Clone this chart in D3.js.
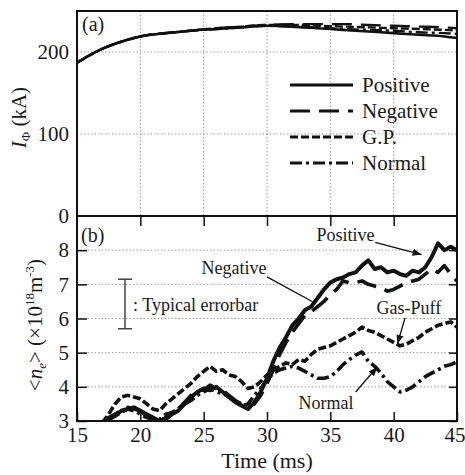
<!DOCTYPE html>
<html>
<head>
<meta charset="utf-8">
<title>Plasma current and density</title>
<style>
body { margin: 0; background: #fff; }
.grid line { stroke: #9a9a9a; stroke-width: 1; stroke-dasharray: 1.5,2; }
.axis path { display: none; }
.axis line { stroke: #111; stroke-width: 1.5; }
</style>
</head>
<body>
<div id="chart"></div>

<script src="https://cdnjs.cloudflare.com/ajax/libs/d3/7.8.5/d3.min.js"></script>
<script>
// ---- panel (a): plasma current I_phi (kA)
const TIME_A = [15, 16, 17, 18, 19, 20, 22, 24, 26, 28, 30, 32, 34, 36, 38, 40, 42, 44, 45];
const IP_POSITIVE = [187, 196, 204, 210, 215, 219, 223, 226, 228, 230, 232, 231, 229, 227, 225, 223, 221, 219, 217];
const IP_NEGATIVE = [187, 196, 204, 210, 215, 219, 223, 226, 229, 231, 233, 234, 234, 234, 233, 232, 231, 230, 229];
const IP_GP       = [187, 196, 204, 210, 215, 219, 223, 226, 229, 231, 233, 233, 232, 231, 230, 229, 228, 227, 226];
const IP_NORMAL   = [187, 196, 204, 210, 215, 219, 223, 226, 228, 230, 232, 231, 230, 228, 227, 226, 224, 223, 222];

// ---- panel (b): line averaged density (x10^18 m^-3)
const TIME_B = [17, 17.5, 18, 18.5, 19, 19.5, 20, 20.5, 21, 21.5, 22, 22.5, 23, 23.5, 24, 24.5,
	25, 25.5, 26, 26.5, 27, 27.5, 28, 28.5, 29, 29.5, 30, 30.5, 31, 31.5, 32, 32.5, 33, 33.5,
	34, 34.5, 35, 35.5, 36, 36.5, 37, 37.5, 38, 38.5, 39, 39.5, 40, 40.5, 41, 41.5, 42, 42.5,
	43, 43.5, 44, 44.5, 45];
const NE_POSITIVE = [2.95, 3.05, 3.15, 3.3, 3.35, 3.4, 3.3, 3.2, 3.1, 3.0, 3.05, 3.2, 3.3, 3.5, 3.7, 3.85,
	3.95, 3.9, 4.0, 3.85, 3.7, 3.55, 3.45, 3.35, 3.55, 3.85, 4.25, 4.75, 5.15, 5.45, 5.8, 6.0, 6.25, 6.35,
	6.6, 6.85, 7.05, 7.15, 7.2, 7.3, 7.35, 7.55, 7.7, 7.45, 7.5, 7.35, 7.4, 7.3, 7.25, 7.4, 7.35, 7.5,
	7.8, 8.2, 8.0, 8.1, 8.0];
const NE_NEGATIVE = [2.95, 3.1, 3.2, 3.3, 3.4, 3.35, 3.3, 3.15, 3.05, 3.0, 3.1, 3.25, 3.35, 3.55, 3.75, 3.9,
	3.9, 4.05, 3.95, 3.9, 3.75, 3.6, 3.5, 3.45, 3.5, 3.75, 4.1, 4.5, 4.95, 5.3, 5.6, 5.85, 6.1, 6.2,
	6.35, 6.5, 6.7, 6.85, 7.1, 7.05, 7.05, 7.1, 7.0, 6.95, 6.9, 6.8, 6.85, 6.95, 7.05, 7.1, 7.15, 7.3,
	7.45, 7.35, 7.55, 7.3, 7.1];
const NE_GP = [2.95, 3.2, 3.5, 3.7, 3.75, 3.7, 3.65, 3.5, 3.35, 3.3, 3.5, 3.65, 3.8, 3.95, 4.1, 4.3,
	4.45, 4.6, 4.45, 4.5, 4.35, 4.3, 4.15, 3.95, 4.0, 4.15, 4.35, 4.5, 4.6, 4.7, 4.65, 4.8, 4.75, 4.95,
	5.1, 5.15, 5.2, 5.3, 5.4, 5.5, 5.6, 5.75, 5.65, 5.6, 5.5, 5.4, 5.3, 5.2, 5.25, 5.35, 5.45, 5.6,
	5.7, 5.8, 5.85, 5.9, 5.75];
const NE_NORMAL = [2.95, 3.05, 3.15, 3.25, 3.35, 3.3, 3.2, 3.1, 3.05, 3.05, 3.2, 3.25, 3.35, 3.5, 3.6, 3.75,
	3.85, 3.95, 3.85, 3.8, 3.7, 3.6, 3.45, 3.5, 3.75, 3.95, 4.2, 4.4, 4.5, 4.55, 4.6, 4.55, 4.45, 4.35,
	4.25, 4.25, 4.3, 4.45, 4.65, 4.8, 4.93, 5.02, 4.75, 4.6, 4.4, 4.15, 4.0, 3.85, 3.9, 4.0, 4.15, 4.3,
	4.4, 4.5, 4.6, 4.65, 4.73];

const SERIES_NAMES = ["Positive", "Negative", "G.P.", "Normal"];
const DASHES = [null, "20,9", "8,3", "12,4,3,4"];

const X_TICKS = [15, 20, 25, 30, 35, 40, 45];
const YA_TICKS = [0, 100, 200];
const YB_TICKS = [3, 4, 5, 6, 7, 8];

// annotations in panel (b): [label, labelT, labelV, fromT, fromV, toT, toV, arrow]
const NOTES = [
	["Positive", 36.2, 8.26, 38.55, 8.23, 42.2, 7.87, true],
	["Negative", 27.4, 7.29, 30.0, 7.22, 33.6, 6.49, false],
	["Gas-Puff", 41.2, 6.14, 40.9, 6.02, 40.3, 5.26, true],
	["Normal",   34.65, 3.35, 37.0, 3.85, 38.7, 4.58, true]
];

const W = 465, H = 475;
let svg, x, yA, yB;

initChart();

function initChart() {

	svg = d3.select("#chart").append("svg")
		.attr("width", W)
		.attr("height", H);

	x  = d3.scaleLinear().domain([15, 45]).range([77, 457]);
	yA = d3.scaleLinear().domain([0, 250]).range([216, 11]);
	yB = d3.scaleLinear().domain([3, 9]).range([421, 216]);

	svg.append("defs").append("clipPath").attr("id", "clipB")
		.append("rect").attr("x", 77).attr("y", 216).attr("width", 380).attr("height", 205);

	svg.select("defs").append("marker")
		.attr("id", "arrow")
		.attr("viewBox", "0 0 10 10")
		.attr("refX", 10).attr("refY", 5)
		.attr("markerWidth", 9).attr("markerHeight", 9)
		.attr("markerUnits", "userSpaceOnUse")
		.attr("orient", "auto")
		.append("path").attr("d", "M0,1 L10,5 L0,9 Z").attr("fill", "#111");

	drawGrid();
	drawPanelA();
	drawPanelB();
	drawFrame();

	// serif everywhere, inline so nothing overrides it
	svg.selectAll("text")
		.attr("font-family", "Liberation Serif")
		.style("font-family", "'Liberation Serif'")
		.style("fill", "#1a1a1a");

} // @end initChart()


//
// dotted grid
//
function drawGrid() {
	const g = svg.append("g").attr("class", "grid");
	const inner = X_TICKS.slice(1, -1);

	g.selectAll(".gxa").data(inner).join("line")
		.attr("x1", d => x(d)).attr("x2", d => x(d))
		.attr("y1", yA(250)).attr("y2", yA(0));
	g.selectAll(".gya").data([100, 200]).join("line")
		.attr("x1", x(15)).attr("x2", x(45))
		.attr("y1", d => yA(d)).attr("y2", d => yA(d));
	g.selectAll(".gyb").data([4, 5, 6, 7, 8]).join("line")
		.attr("x1", x(15)).attr("x2", x(45))
		.attr("y1", d => yB(d)).attr("y2", d => yB(d));
} // @end drawGrid()


//
// panel (a)
//
function drawPanelA() {
	const sets = [IP_POSITIVE, IP_NEGATIVE, IP_GP, IP_NORMAL];
	const line = d3.line().x((d, i) => x(TIME_A[i])).y(d => yA(d)).curve(d3.curveMonotoneX);

	sets.forEach((s, k) => {
		svg.append("path")
			.attr("d", line(s))
			.attr("fill", "none")
			.attr("stroke", "#111")
			.attr("stroke-width", k == 0 ? 2.6 : 2.4)
			.attr("stroke-dasharray", DASHES[k]);
	});

	// left labels
	svg.append("g").attr("class", "axis")
		.attr("transform", "translate(77,0)")
		.call(d3.axisLeft(yA).tickValues(YA_TICKS).tickSize(0).tickPadding(8).tickFormat(d3.format("d")))
		.selectAll("text").attr("font-size", 21);

	// legend
	const lg = svg.append("g").attr("transform", "translate(290,85)");
	SERIES_NAMES.forEach((name, k) => {
		lg.append("line")
			.attr("x1", 0).attr("x2", 63)
			.attr("y1", k * 26).attr("y2", k * 26)
			.attr("stroke", "#111").attr("stroke-width", 2.8)
			.attr("stroke-dasharray", DASHES[k]);
		lg.append("text")
			.attr("x", 72).attr("y", k * 26 + 7)
			.attr("font-size", 21)
			.text(name);
	});

	svg.append("text").attr("x", 82).attr("y", 31).attr("font-size", 20).text("(a)");

	// y title
	const t = svg.append("text")
		.attr("transform", "translate(26," + yA(120) + ") rotate(-90)")
		.attr("text-anchor", "middle")
		.attr("font-size", 21);
	t.append("tspan").attr("font-style", "italic").text("I");
	t.append("tspan").attr("font-size", 13).attr("dy", 4).text("\u03A6");
	t.append("tspan").attr("dy", -4).text(" (kA)");
} // @end drawPanelA()


//
// panel (b)
//
function drawPanelB() {
	const sets = [NE_POSITIVE, NE_NEGATIVE, NE_GP, NE_NORMAL];
	const line = d3.line().x((d, i) => x(TIME_B[i])).y(d => yB(d));
	const g = svg.append("g").attr("clip-path", "url(#clipB)");

	sets.slice().reverse().forEach((s, r) => {
		const k = 3 - r;
		g.append("path")
			.attr("d", line(s))
			.attr("fill", "none")
			.attr("stroke", "#111")
			.attr("stroke-width", k == 0 ? 4 : 3.6)
			.attr("stroke-linejoin", "round")
			.attr("stroke-dasharray", DASHES[k]);
	});

	// axes
	svg.append("g").attr("class", "axis")
		.attr("transform", "translate(77,0)")
		.call(d3.axisLeft(yB).tickValues(YB_TICKS).tickSize(-10).tickPadding(8).tickFormat(d3.format("d")))
		.selectAll("text").attr("font-size", 21);
	svg.append("g").attr("class", "axis")
		.attr("transform", "translate(457,0)")
		.call(d3.axisRight(yB).tickValues(YB_TICKS).tickSize(-8).tickFormat(""));
	const xa = svg.append("g").attr("class", "axis")
		.attr("transform", "translate(0,421)")
		.call(d3.axisBottom(x).tickValues(X_TICKS).tickSize(-9).tickPadding(6).tickFormat(d3.format("d")));
	xa.selectAll("text").attr("font-size", 21);
	// last label sits against the page edge
	xa.selectAll("text").filter(d => d == 45).attr("text-anchor", "end").attr("x", 8);
	svg.append("g").attr("class", "axis")
		.attr("transform", "translate(0,216)")
		.call(d3.axisTop(x).tickValues(X_TICKS.slice(1, -1)).tickSize(-10).tickFormat(""));

	svg.append("text").attr("x", 81).attr("y", 242).attr("font-size", 20).text("(b)");

	// typical errorbar
	const eb = svg.append("g").attr("stroke", "#444").attr("stroke-width", 1.5);
	eb.append("line").attr("x1", 125).attr("x2", 125).attr("y1", yB(7.15)).attr("y2", yB(5.7));
	eb.append("line").attr("x1", 118).attr("x2", 132).attr("y1", yB(7.15)).attr("y2", yB(7.15));
	eb.append("line").attr("x1", 118).attr("x2", 132).attr("y1", yB(5.7)).attr("y2", yB(5.7));
	svg.append("text").attr("x", 133).attr("y", yB(6.4) + 6).attr("font-size", 18)
		.text(": Typical errorbar");

	// annotations
	NOTES.forEach(n => {
		svg.append("text")
			.attr("x", x(n[1])).attr("y", yB(n[2]))
			.attr("text-anchor", "middle")
			.attr("font-size", 18)
			.text(n[0]);
		svg.append("line")
			.attr("x1", x(n[3])).attr("y1", yB(n[4]))
			.attr("x2", x(n[5])).attr("y2", yB(n[6]))
			.attr("stroke", "#111").attr("stroke-width", 1.3)
			.attr("marker-end", n[7] ? "url(#arrow)" : null);
	});

	// y title
	const t = svg.append("text")
		.attr("transform", "translate(42,325) rotate(-90)")
		.attr("text-anchor", "middle")
		.attr("font-size", 21);
	t.append("tspan").text("<");
	t.append("tspan").attr("font-style", "italic").text("n");
	t.append("tspan").attr("font-style", "italic").attr("font-size", 13).attr("dy", 4).text("e");
	t.append("tspan").attr("dy", -4).text("> (\u00D710");
	t.append("tspan").attr("font-size", 13).attr("dy", -8).text("18");
	t.append("tspan").attr("dy", 8).text("m");
	t.append("tspan").attr("font-size", 13).attr("dy", -8).text("-3");
	t.append("tspan").attr("dy", 8).text(")");

	// x title
	svg.append("text")
		.attr("x", x(30)).attr("y", 468)
		.attr("text-anchor", "middle")
		.attr("font-size", 22)
		.text("Time (ms)");
} // @end drawPanelB()


//
// frame
//
function drawFrame() {
	svg.append("rect")
		.attr("x", x(15)).attr("y", yA(250))
		.attr("width", x(45) - x(15)).attr("height", yB(3) - yA(250))
		.attr("fill", "none").attr("stroke", "#111").attr("stroke-width", 2);
	svg.append("line")
		.attr("x1", x(15)).attr("x2", x(45))
		.attr("y1", yA(0)).attr("y2", yA(0))
		.attr("stroke", "#111").attr("stroke-width", 2);
} // @end drawFrame()
</script>
</body>
</html>
